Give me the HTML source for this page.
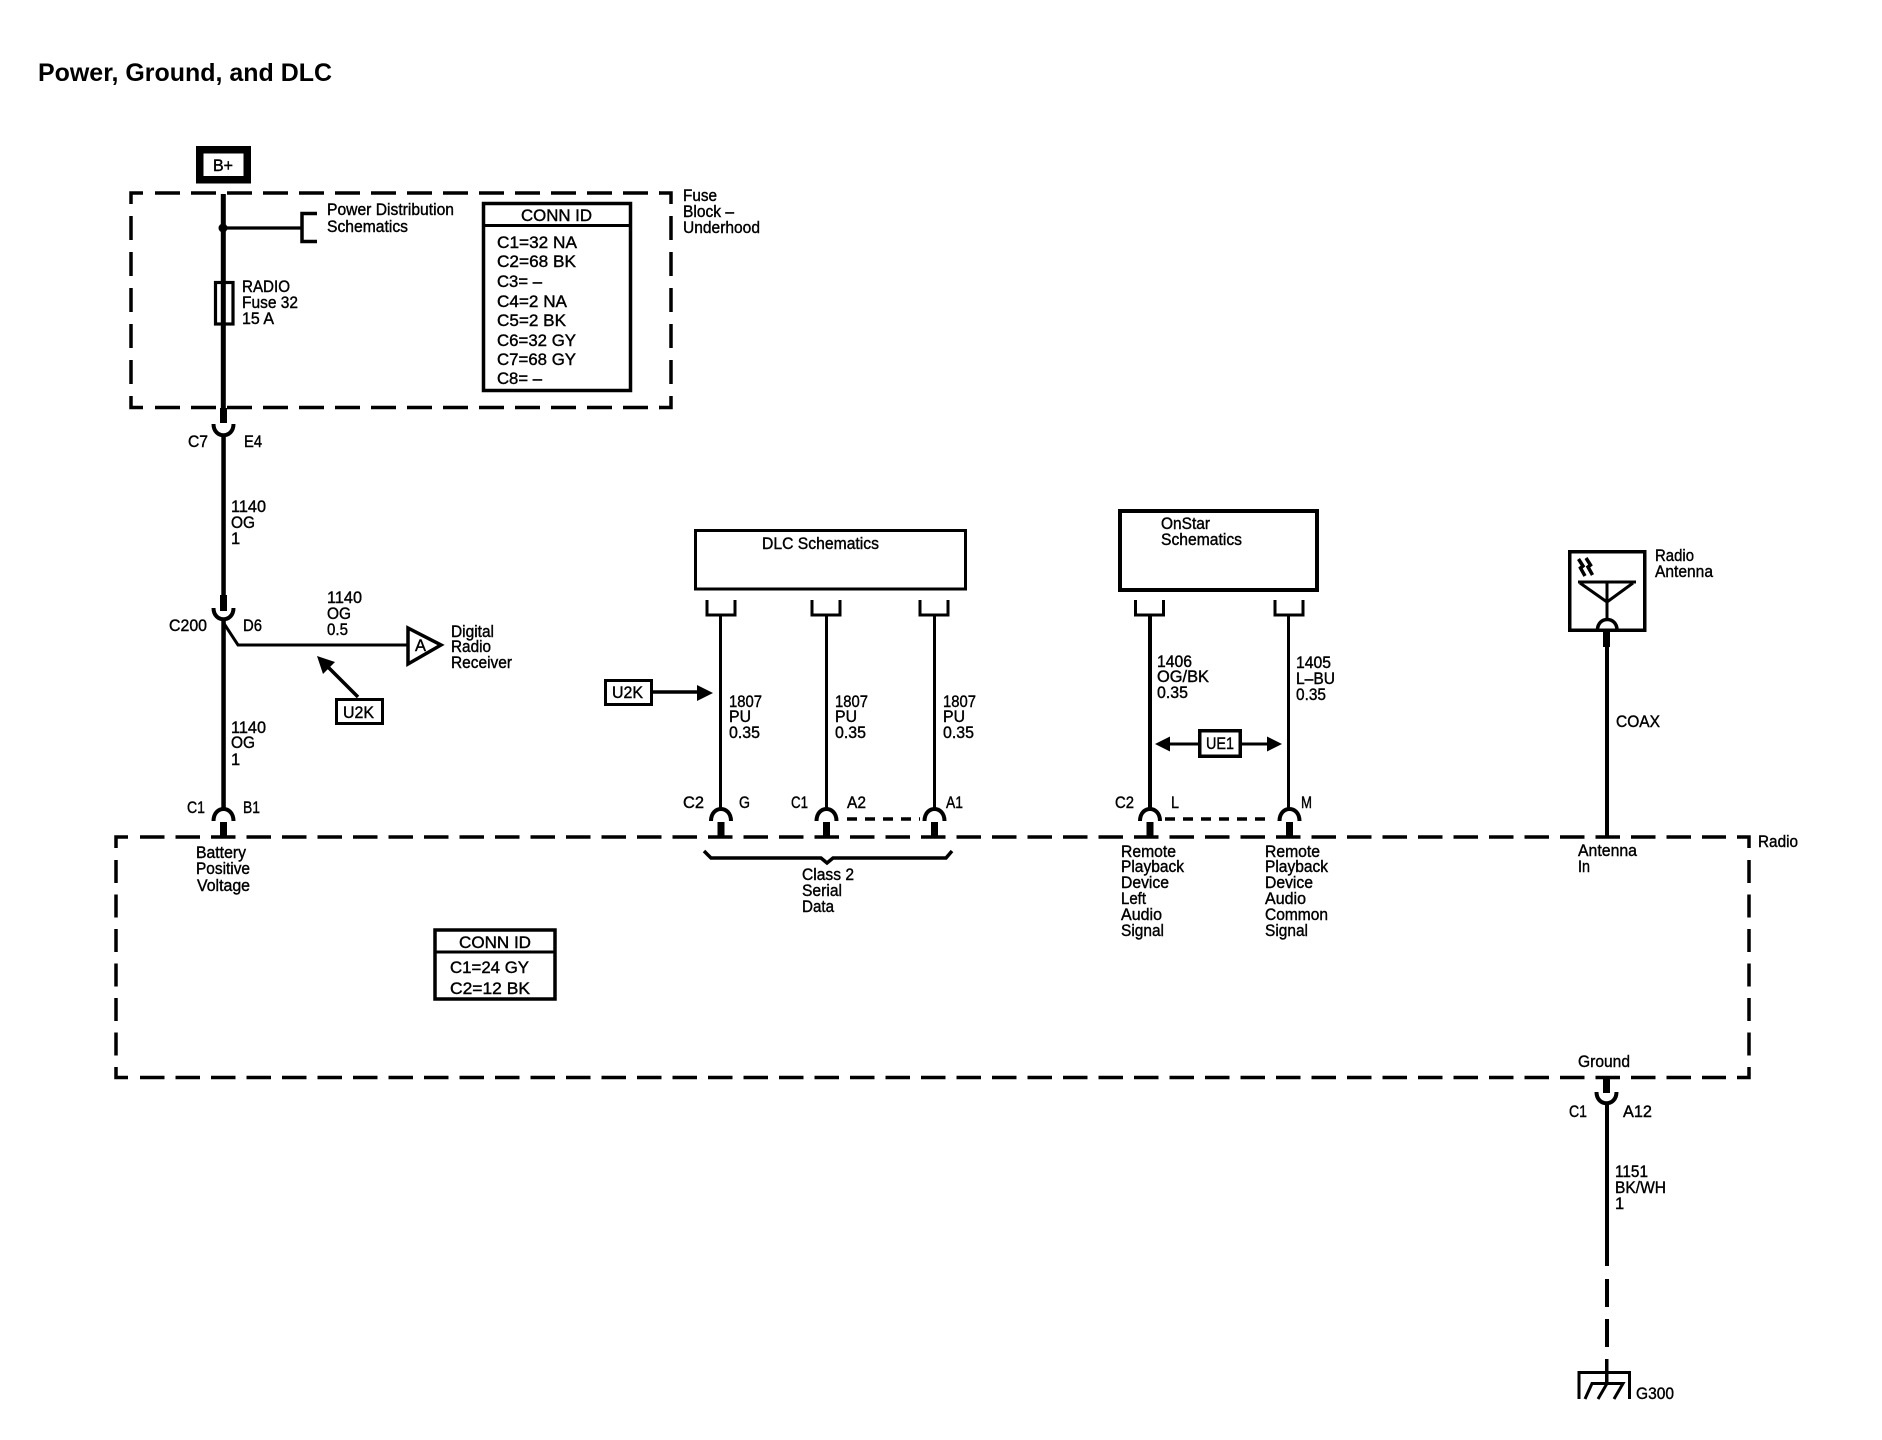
<!DOCTYPE html>
<html>
<head>
<meta charset="utf-8">
<title>Power, Ground, and DLC</title>
<style>
html,body{margin:0;padding:0;background:#fff;}
svg{display:block;}
text{font-family:"Liberation Sans",sans-serif;font-size:16.5px;fill:#000;stroke:#000;stroke-width:.4px;}
.s{fill:none;stroke:#000;}
</style>
</head>
<body>
<svg xmlns="http://www.w3.org/2000/svg" width="1882" height="1440" viewBox="0 0 1882 1440">
<defs>
<g id="dome">
<path class="s" stroke-width="4" d="M-10 821C-10 805 10 805 10 821"/>
<rect x="-3.5" y="822" width="7" height="15" fill="#000"/>
</g>
<path id="cup" class="s" stroke-width="4" d="M-10 0C-10 15 10 15 10 0"/>
<path id="br" class="s" stroke-width="3" d="M-14 600V615H14V600"/>
</defs>

<rect width="1882" height="1440" fill="#fff"/>

<text x="38" y="81" textLength="294" lengthAdjust="spacingAndGlyphs" style="font-size:25px;font-weight:bold;stroke-width:0">Power, Ground, and DLC</text>

<!-- B+ -->
<rect x="199.75" y="149.75" width="47.5" height="30" fill="#fff" stroke="#000" stroke-width="7.5"/>
<text x="213" y="171" textLength="20" lengthAdjust="spacingAndGlyphs">B+</text>

<!-- Fuse block dashed -->
<g class="s" stroke-width="3.5" fill="none">
<path d="M131 204V193H143"/>
<path d="M155 193H660" stroke-dasharray="25 11"/>
<path d="M659 193H671V204"/>
<path d="M671 216V396" stroke-dasharray="24 12"/>
<path d="M671 396V407.500H659"/>
<path d="M155 407.500H660" stroke-dasharray="25 11"/>
<path d="M143 407.500H131V396"/>
<path d="M131 216V396" stroke-dasharray="24 12"/>
</g>

<!-- Main wire -->
<rect x="220.800" y="194" width="5" height="215" fill="#000"/>
<circle cx="223" cy="228" r="4.500"/>
<path class="s" stroke-width="3.200" d="M223 228H302"/>
<path class="s" stroke-width="3.500" d="M317 213.500H302V241.500H317"/>
<rect x="215.500" y="282.500" width="17.500" height="41.500" fill="none" stroke="#000" stroke-width="3.200"/>
<rect x="220" y="408" width="7" height="15" fill="#000"/>
<use href="#cup" transform="translate(223.500 424)"/>
<rect x="221.300" y="434" width="4.500" height="161" fill="#000"/>
<rect x="220" y="595" width="7" height="16" fill="#000"/>
<use href="#cup" transform="translate(223.500 608)"/>
<rect x="221.300" y="619" width="4.500" height="190" fill="#000"/>
<use href="#dome" transform="translate(223.500 0)"/>

<!-- Fuse block text -->
<text x="327" y="215" textLength="127" lengthAdjust="spacingAndGlyphs">Power Distribution</text>
<text x="327" y="232" textLength="81" lengthAdjust="spacingAndGlyphs">Schematics</text>
<text x="242" y="292" textLength="48" lengthAdjust="spacingAndGlyphs">RADIO</text>
<text x="242" y="308" textLength="56" lengthAdjust="spacingAndGlyphs">Fuse 32</text>
<text x="242" y="324" textLength="32" lengthAdjust="spacingAndGlyphs">15 A</text>
<text x="683" y="201" textLength="34" lengthAdjust="spacingAndGlyphs">Fuse</text>
<text x="683" y="217" textLength="51" lengthAdjust="spacingAndGlyphs">Block –</text>
<text x="683" y="233" textLength="77" lengthAdjust="spacingAndGlyphs">Underhood</text>

<!-- CONN ID 1 -->
<rect x="483.500" y="203.500" width="147" height="187" fill="#fff" stroke="#000" stroke-width="3.500"/>
<path class="s" stroke-width="3" d="M483 225.500H631"/>
<text x="521" y="221" textLength="71" lengthAdjust="spacingAndGlyphs">CONN ID</text>
<text x="497" y="248" textLength="80" lengthAdjust="spacingAndGlyphs">C1=32 NA</text>
<text x="497" y="267" textLength="79" lengthAdjust="spacingAndGlyphs">C2=68 BK</text>
<text x="497" y="287" textLength="45" lengthAdjust="spacingAndGlyphs">C3= –</text>
<text x="497" y="307" textLength="70" lengthAdjust="spacingAndGlyphs">C4=2 NA</text>
<text x="497" y="326" textLength="69" lengthAdjust="spacingAndGlyphs">C5=2 BK</text>
<text x="497" y="346" textLength="79" lengthAdjust="spacingAndGlyphs">C6=32 GY</text>
<text x="497" y="365" textLength="79" lengthAdjust="spacingAndGlyphs">C7=68 GY</text>
<text x="497" y="384" textLength="45" lengthAdjust="spacingAndGlyphs">C8= –</text>

<!-- Left labels -->
<text x="188" y="447" textLength="20" lengthAdjust="spacingAndGlyphs">C7</text>
<text x="244" y="447" textLength="18" lengthAdjust="spacingAndGlyphs">E4</text>
<text x="231" y="512" textLength="35" lengthAdjust="spacingAndGlyphs">1140</text>
<text x="231" y="528" textLength="24" lengthAdjust="spacingAndGlyphs">OG</text>
<text x="231" y="544">1</text>
<text x="169" y="631" textLength="38" lengthAdjust="spacingAndGlyphs">C200</text>
<text x="243" y="631" textLength="19" lengthAdjust="spacingAndGlyphs">D6</text>
<text x="327" y="603" textLength="35" lengthAdjust="spacingAndGlyphs">1140</text>
<text x="327" y="619" textLength="24" lengthAdjust="spacingAndGlyphs">OG</text>
<text x="327" y="635" textLength="21" lengthAdjust="spacingAndGlyphs">0.5</text>
<text x="231" y="733" textLength="35" lengthAdjust="spacingAndGlyphs">1140</text>
<text x="231" y="748" textLength="24" lengthAdjust="spacingAndGlyphs">OG</text>
<text x="231" y="765">1</text>
<text x="187" y="813" textLength="18" lengthAdjust="spacingAndGlyphs">C1</text>
<text x="243" y="813" textLength="17" lengthAdjust="spacingAndGlyphs">B1</text>
<text x="196" y="858" textLength="50" lengthAdjust="spacingAndGlyphs">Battery</text>
<text x="196" y="874" textLength="54" lengthAdjust="spacingAndGlyphs">Positive</text>
<text x="197" y="891" textLength="53" lengthAdjust="spacingAndGlyphs">Voltage</text>

<!-- Branch A -->
<path class="s" stroke-width="3" d="M223 622L238 645H408"/>
<path d="M408 628L441 645L408 664Z" fill="#fff" stroke="#000" stroke-width="3.500"/>
<text x="415" y="651" textLength="11" lengthAdjust="spacingAndGlyphs">A</text>
<text x="451" y="637" textLength="43" lengthAdjust="spacingAndGlyphs">Digital</text>
<text x="451" y="652" textLength="40" lengthAdjust="spacingAndGlyphs">Radio</text>
<text x="451" y="668" textLength="61" lengthAdjust="spacingAndGlyphs">Receiver</text>
<path class="s" stroke-width="3.500" d="M358 697L324 663"/>
<path d="M317 656L335 662L323 674Z" fill="#000"/>
<rect x="336.500" y="699.500" width="46" height="24" fill="#fff" stroke="#000" stroke-width="3"/>
<text x="343" y="718" textLength="31" lengthAdjust="spacingAndGlyphs">U2K</text>

<!-- Radio dashed box -->
<g class="s" stroke-width="3.500" fill="none">
<path d="M116 848V837H128"/>
<path d="M140 837H1726" stroke-dasharray="24.500 11"/>
<path d="M1737 837H1749V848"/>
<path d="M1749 860V1056" stroke-dasharray="23 11.500"/>
<path d="M1749 1067V1077.500H1737"/>
<path d="M140 1077.500H1726" stroke-dasharray="24.500 11"/>
<path d="M128 1077.500H116V1067"/>
<path d="M116 860V1056" stroke-dasharray="23 11.500"/>
</g>
<text x="1758" y="847" textLength="40" lengthAdjust="spacingAndGlyphs">Radio</text>

<!-- CONN ID 2 -->
<rect x="435" y="930" width="120" height="69" fill="#fff" stroke="#000" stroke-width="3.500"/>
<path class="s" stroke-width="3" d="M434 952H555"/>
<text x="459" y="948" textLength="72" lengthAdjust="spacingAndGlyphs">CONN ID</text>
<text x="450" y="973" textLength="79" lengthAdjust="spacingAndGlyphs">C1=24 GY</text>
<text x="450" y="994" textLength="80" lengthAdjust="spacingAndGlyphs">C2=12 BK</text>

<!-- DLC -->
<rect x="695.500" y="530.500" width="270" height="58.500" fill="#fff" stroke="#000" stroke-width="3"/>
<text x="762" y="549" textLength="117" lengthAdjust="spacingAndGlyphs">DLC Schematics</text>
<use href="#br" transform="translate(721 0)"/>
<use href="#br" transform="translate(826 0)"/>
<use href="#br" transform="translate(934 0)"/>
<path class="s" stroke-width="3" d="M720.500 615V808M826.500 615V808M934.500 615V808"/>
<use href="#dome" transform="translate(721 0)"/>
<use href="#dome" transform="translate(826.500 0)"/>
<use href="#dome" transform="translate(934.500 0)"/>
<path class="s" stroke-width="3.500" stroke-dasharray="10 8" d="M847 819H920"/>
<rect x="605.500" y="680.500" width="46" height="24" fill="#fff" stroke="#000" stroke-width="3"/>
<text x="612" y="698" textLength="31" lengthAdjust="spacingAndGlyphs">U2K</text>
<path class="s" stroke-width="3.500" d="M653 692H698"/>
<path d="M697 685V701L713 693Z" fill="#000"/>
<text x="729" y="707" textLength="33" lengthAdjust="spacingAndGlyphs">1807</text>
<text x="729" y="722" textLength="22" lengthAdjust="spacingAndGlyphs">PU</text>
<text x="729" y="738" textLength="31" lengthAdjust="spacingAndGlyphs">0.35</text>
<text x="835" y="707" textLength="33" lengthAdjust="spacingAndGlyphs">1807</text>
<text x="835" y="722" textLength="22" lengthAdjust="spacingAndGlyphs">PU</text>
<text x="835" y="738" textLength="31" lengthAdjust="spacingAndGlyphs">0.35</text>
<text x="943" y="707" textLength="33" lengthAdjust="spacingAndGlyphs">1807</text>
<text x="943" y="722" textLength="22" lengthAdjust="spacingAndGlyphs">PU</text>
<text x="943" y="738" textLength="31" lengthAdjust="spacingAndGlyphs">0.35</text>
<text x="683" y="808" textLength="21" lengthAdjust="spacingAndGlyphs">C2</text>
<text x="739" y="808" textLength="11" lengthAdjust="spacingAndGlyphs">G</text>
<text x="791" y="808" textLength="17" lengthAdjust="spacingAndGlyphs">C1</text>
<text x="847" y="808" textLength="19" lengthAdjust="spacingAndGlyphs">A2</text>
<text x="946" y="808" textLength="17" lengthAdjust="spacingAndGlyphs">A1</text>
<path class="s" stroke-width="3.500" d="M704 851L711 858H821L827 863L833 858H946L952 851"/>
<text x="802" y="880" textLength="52" lengthAdjust="spacingAndGlyphs">Class 2</text>
<text x="802" y="896" textLength="40" lengthAdjust="spacingAndGlyphs">Serial</text>
<text x="802" y="912" textLength="32" lengthAdjust="spacingAndGlyphs">Data</text>

<!-- OnStar -->
<rect x="1120" y="511" width="197" height="79" fill="#fff" stroke="#000" stroke-width="4"/>
<text x="1161" y="529" textLength="49" lengthAdjust="spacingAndGlyphs">OnStar</text>
<text x="1161" y="545" textLength="81" lengthAdjust="spacingAndGlyphs">Schematics</text>
<use href="#br" transform="translate(1149.500 0)"/>
<use href="#br" transform="translate(1289 0)"/>
<path class="s" stroke-width="4" d="M1150 615V808"/>
<path class="s" stroke-width="3" d="M1288.500 615V808"/>
<use href="#dome" transform="translate(1150 0)"/>
<use href="#dome" transform="translate(1289.500 0)"/>
<path class="s" stroke-width="3.500" stroke-dasharray="10 8" d="M1165 819H1273"/>
<text x="1157" y="667" textLength="35" lengthAdjust="spacingAndGlyphs">1406</text>
<text x="1157" y="682" textLength="52" lengthAdjust="spacingAndGlyphs">OG/BK</text>
<text x="1157" y="698" textLength="31" lengthAdjust="spacingAndGlyphs">0.35</text>
<text x="1296" y="668" textLength="35" lengthAdjust="spacingAndGlyphs">1405</text>
<text x="1296" y="684" textLength="39" lengthAdjust="spacingAndGlyphs">L–BU</text>
<text x="1296" y="700" textLength="30" lengthAdjust="spacingAndGlyphs">0.35</text>
<path class="s" stroke-width="3" d="M1170 744H1198M1242 744H1267"/>
<path d="M1155 744L1170 736.500V751.500Z" fill="#000"/>
<path d="M1282 744L1267 736.500V751.500Z" fill="#000"/>
<rect x="1199.750" y="730.750" width="40.500" height="25.500" fill="#fff" stroke="#000" stroke-width="3.500"/>
<text x="1206" y="749" textLength="28" lengthAdjust="spacingAndGlyphs">UE1</text>
<text x="1115" y="808" textLength="19" lengthAdjust="spacingAndGlyphs">C2</text>
<text x="1171" y="808" textLength="8" lengthAdjust="spacingAndGlyphs">L</text>
<text x="1301" y="808" textLength="11" lengthAdjust="spacingAndGlyphs">M</text>
<text x="1121" y="857" textLength="55" lengthAdjust="spacingAndGlyphs">Remote</text>
<text x="1121" y="872" textLength="63" lengthAdjust="spacingAndGlyphs">Playback</text>
<text x="1121" y="888" textLength="48" lengthAdjust="spacingAndGlyphs">Device</text>
<text x="1121" y="904" textLength="25" lengthAdjust="spacingAndGlyphs">Left</text>
<text x="1121" y="920" textLength="41" lengthAdjust="spacingAndGlyphs">Audio</text>
<text x="1121" y="936" textLength="43" lengthAdjust="spacingAndGlyphs">Signal</text>
<text x="1265" y="857" textLength="55" lengthAdjust="spacingAndGlyphs">Remote</text>
<text x="1265" y="872" textLength="63" lengthAdjust="spacingAndGlyphs">Playback</text>
<text x="1265" y="888" textLength="48" lengthAdjust="spacingAndGlyphs">Device</text>
<text x="1265" y="904" textLength="41" lengthAdjust="spacingAndGlyphs">Audio</text>
<text x="1265" y="920" textLength="63" lengthAdjust="spacingAndGlyphs">Common</text>
<text x="1265" y="936" textLength="43" lengthAdjust="spacingAndGlyphs">Signal</text>

<!-- Antenna -->
<rect x="1569.750" y="551.750" width="75" height="78.500" fill="#fff" stroke="#000" stroke-width="3.500"/>
<path class="s" stroke-width="3" d="M1578 582H1636M1580 583L1607 602L1633 583M1607 583V621"/>
<path class="s" stroke-width="3.500" d="M1578.500 559L1583 566L1580.500 568L1585 576M1586 558L1590.500 565L1588 567L1592.500 575"/>
<path class="s" stroke-width="3.500" d="M1597.500 630C1597.500 616 1617 616 1617 630"/>
<rect x="1603" y="631" width="7" height="16" fill="#000"/>
<rect x="1605" y="646" width="4" height="191" fill="#000"/>
<text x="1655" y="561" textLength="39" lengthAdjust="spacingAndGlyphs">Radio</text>
<text x="1655" y="577" textLength="58" lengthAdjust="spacingAndGlyphs">Antenna</text>
<text x="1616" y="727" textLength="44" lengthAdjust="spacingAndGlyphs">COAX</text>
<text x="1578" y="856" textLength="59" lengthAdjust="spacingAndGlyphs">Antenna</text>
<text x="1578" y="872" textLength="12" lengthAdjust="spacingAndGlyphs">In</text>

<!-- Ground -->
<text x="1578" y="1067" textLength="52" lengthAdjust="spacingAndGlyphs">Ground</text>
<rect x="1603" y="1079" width="7" height="14" fill="#000"/>
<use href="#cup" transform="translate(1606.500 1092)"/>
<rect x="1605" y="1103" width="4" height="163" fill="#000"/>
<rect x="1605" y="1279" width="4" height="28" fill="#000"/>
<rect x="1605" y="1319" width="4" height="28" fill="#000"/>
<rect x="1605" y="1359" width="3.500" height="24" fill="#000"/>
<path class="s" stroke-width="3" d="M1579 1399V1372.500H1629.500V1399"/>
<path class="s" stroke-width="3" d="M1585 1399L1592 1383.500H1623L1614 1399M1607 1383.500L1598 1399"/>
<text x="1636" y="1399" textLength="38" lengthAdjust="spacingAndGlyphs">G300</text>
<text x="1569" y="1117" textLength="18" lengthAdjust="spacingAndGlyphs">C1</text>
<text x="1623" y="1117" textLength="29" lengthAdjust="spacingAndGlyphs">A12</text>
<text x="1615" y="1177" textLength="33" lengthAdjust="spacingAndGlyphs">1151</text>
<text x="1615" y="1193" textLength="51" lengthAdjust="spacingAndGlyphs">BK/WH</text>
<text x="1615" y="1209">1</text>
</svg>
</body>
</html>
